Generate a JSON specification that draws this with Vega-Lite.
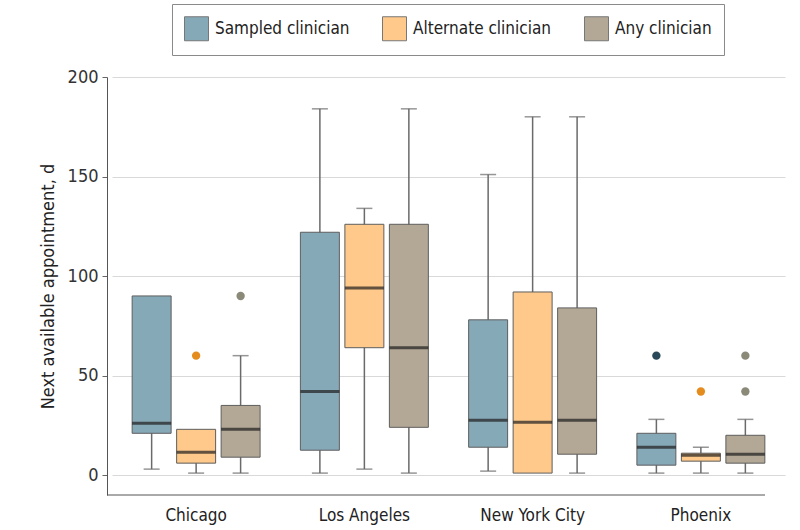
{
  "$schema": "https://vega.github.io/schema/vega-lite/v6.json",
  "autosize": {"type": "none"},
  "padding": {"left": 107, "top": 77, "right": 35, "bottom": 35},
  "width": 658,
  "height": 418,
  "background": "white",
  "config": {
    "font": "Liberation Sans Narrow, DejaVu Sans Condensed, Liberation Sans, sans-serif",
    "view": {"stroke": null}
  },
  "datasets": {
    "boxes": [
      {"city": "Chicago", "type": "Sampled clinician", "min": 3, "q1": 21, "median": 26, "q3": 90, "max": 90},
      {"city": "Chicago", "type": "Alternate clinician", "min": 1, "q1": 6, "median": 11.5, "q3": 23, "max": 23},
      {"city": "Chicago", "type": "Any clinician", "min": 1, "q1": 9, "median": 23, "q3": 35, "max": 60},
      {"city": "Los Angeles", "type": "Sampled clinician", "min": 1, "q1": 12.5, "median": 42, "q3": 122, "max": 184},
      {"city": "Los Angeles", "type": "Alternate clinician", "min": 3, "q1": 64, "median": 94, "q3": 126, "max": 134},
      {"city": "Los Angeles", "type": "Any clinician", "min": 1, "q1": 24, "median": 64, "q3": 126, "max": 184},
      {"city": "New York City", "type": "Sampled clinician", "min": 2, "q1": 14, "median": 27.5, "q3": 78, "max": 151},
      {"city": "New York City", "type": "Alternate clinician", "min": 1, "q1": 1, "median": 26.5, "q3": 92, "max": 180},
      {"city": "New York City", "type": "Any clinician", "min": 1, "q1": 10.5, "median": 27.5, "q3": 84, "max": 180},
      {"city": "Phoenix", "type": "Sampled clinician", "min": 1, "q1": 5, "median": 14, "q3": 21, "max": 28},
      {"city": "Phoenix", "type": "Alternate clinician", "min": 1, "q1": 7, "median": 10, "q3": 11, "max": 14},
      {"city": "Phoenix", "type": "Any clinician", "min": 1, "q1": 6, "median": 10.5, "q3": 20, "max": 28}
    ],
    "outliers": [
      {"city": "Chicago", "type": "Alternate clinician", "value": 60},
      {"city": "Chicago", "type": "Any clinician", "value": 90},
      {"city": "Phoenix", "type": "Sampled clinician", "value": 60},
      {"city": "Phoenix", "type": "Alternate clinician", "value": 42},
      {"city": "Phoenix", "type": "Any clinician", "value": 60},
      {"city": "Phoenix", "type": "Any clinician", "value": 42}
    ]
  },
  "layer": [
    {
      "encoding": {
        "x": {
          "field": "city", "type": "nominal",
          "sort": ["Chicago", "Los Angeles", "New York City", "Phoenix"],
          "scale": {"domain": ["Chicago", "Los Angeles", "New York City", "Phoenix"], "range": [5, 678], "paddingInner": 0, "paddingOuter": 0},
          "axis": {"title": null, "domain": false, "ticks": false, "labelAngle": 0, "labelFontSize": 17, "labelColor": "#222", "labelPadding": 12, "grid": false}
        },
        "xOffset": {
          "field": "type", "type": "nominal",
          "sort": ["Sampled clinician", "Alternate clinician", "Any clinician"],
          "scale": {"domain": ["Sampled clinician", "Alternate clinician", "Any clinician"], "paddingInner": 0.124, "paddingOuter": 0.453}
        }
      },
      "layer": [
        {
          "data": {"name": "boxes"},
          "mark": {"type": "rule", "color": "#6a6a6a", "strokeWidth": 1.5},
          "encoding": {
            "y": {
              "field": "min", "type": "quantitative",
              "scale": {"domain": [-10, 200], "nice": false, "zero": false},
              "axis": {
                "values": [0, 50, 100, 150, 200],
                "title": "Next available appointment, d",
                "titleFontSize": 18, "titleFontWeight": "normal", "titleColor": "#222", "titlePadding": 10,
                "labelFontSize": 18, "labelColor": "#333", "labelPadding": 4,
                "tickSize": 5, "tickColor": "#666", "domainColor": "#555",
                "gridColor": "#d9d9d9", "grid": true
              }
            },
            "y2": {"field": "max"}
          }
        },
        {
          "data": {"name": "boxes"},
          "transform": [{"filter": "datum.min < datum.q1"}],
          "mark": {"type": "tick", "color": "#6a6a6a", "size": 16, "thickness": 1.5, "orient": "horizontal"},
          "encoding": {"y": {"field": "min", "type": "quantitative"}}
        },
        {
          "data": {"name": "boxes"},
          "transform": [{"filter": "datum.max > datum.q3"}],
          "mark": {"type": "tick", "color": "#6a6a6a", "size": 16, "thickness": 1.5, "orient": "horizontal"},
          "encoding": {"y": {"field": "max", "type": "quantitative"}}
        },
        {
          "data": {"name": "boxes"},
          "mark": {"type": "bar", "stroke": "#5e5e5e", "strokeWidth": 1, "opacity": 1},
          "encoding": {
            "y": {"field": "q1", "type": "quantitative"},
            "y2": {"field": "q3"},
            "color": {
              "field": "type", "type": "nominal",
              "sort": ["Sampled clinician", "Alternate clinician", "Any clinician"],
              "scale": {"domain": ["Sampled clinician", "Alternate clinician", "Any clinician"], "range": ["#86a9b8", "#fec98a", "#b3a896"]},
              "legend": {
                "title": null, "orient": "none", "legendX": 65, "legendY": -73,
                "direction": "horizontal", "symbolType": "square", "symbolSize": 576,
                "symbolStrokeColor": "#777", "symbolStrokeWidth": 1, "symbolOpacity": 1,
                "labelFontSize": 17, "labelColor": "#222", "labelOffset": 6,
                "columnPadding": 30, "padding": 12, "strokeColor": "#8a8a8a",
                "fillColor": "white"
              }
            }
          }
        },
        {
          "data": {"name": "boxes"},
          "mark": {"type": "tick", "color": "#1e1e1e", "size": 39, "thickness": 3, "orient": "horizontal"},
          "encoding": {"y": {"field": "median", "type": "quantitative"}}
        },
        {
          "data": {"name": "outliers"},
          "mark": {"type": "point", "filled": true, "size": 70, "opacity": 1, "shape": "circle"},
          "encoding": {
            "y": {"field": "value", "type": "quantitative"},
            "fill": {
              "field": "type", "type": "nominal",
              "scale": {"domain": ["Sampled clinician", "Alternate clinician", "Any clinician"], "range": ["#2a4a5a", "#e58c1f", "#8b8a78"]},
              "legend": null
            }
          }
        }
      ]
    },
    {
      "data": {"values": [{}]},
      "mark": {"type": "rule", "color": "#555", "strokeWidth": 1},
      "encoding": {"y": {"datum": -10}}
    }
  ],
  "resolve": {"scale": {"color": "independent", "fill": "independent"}}
}
